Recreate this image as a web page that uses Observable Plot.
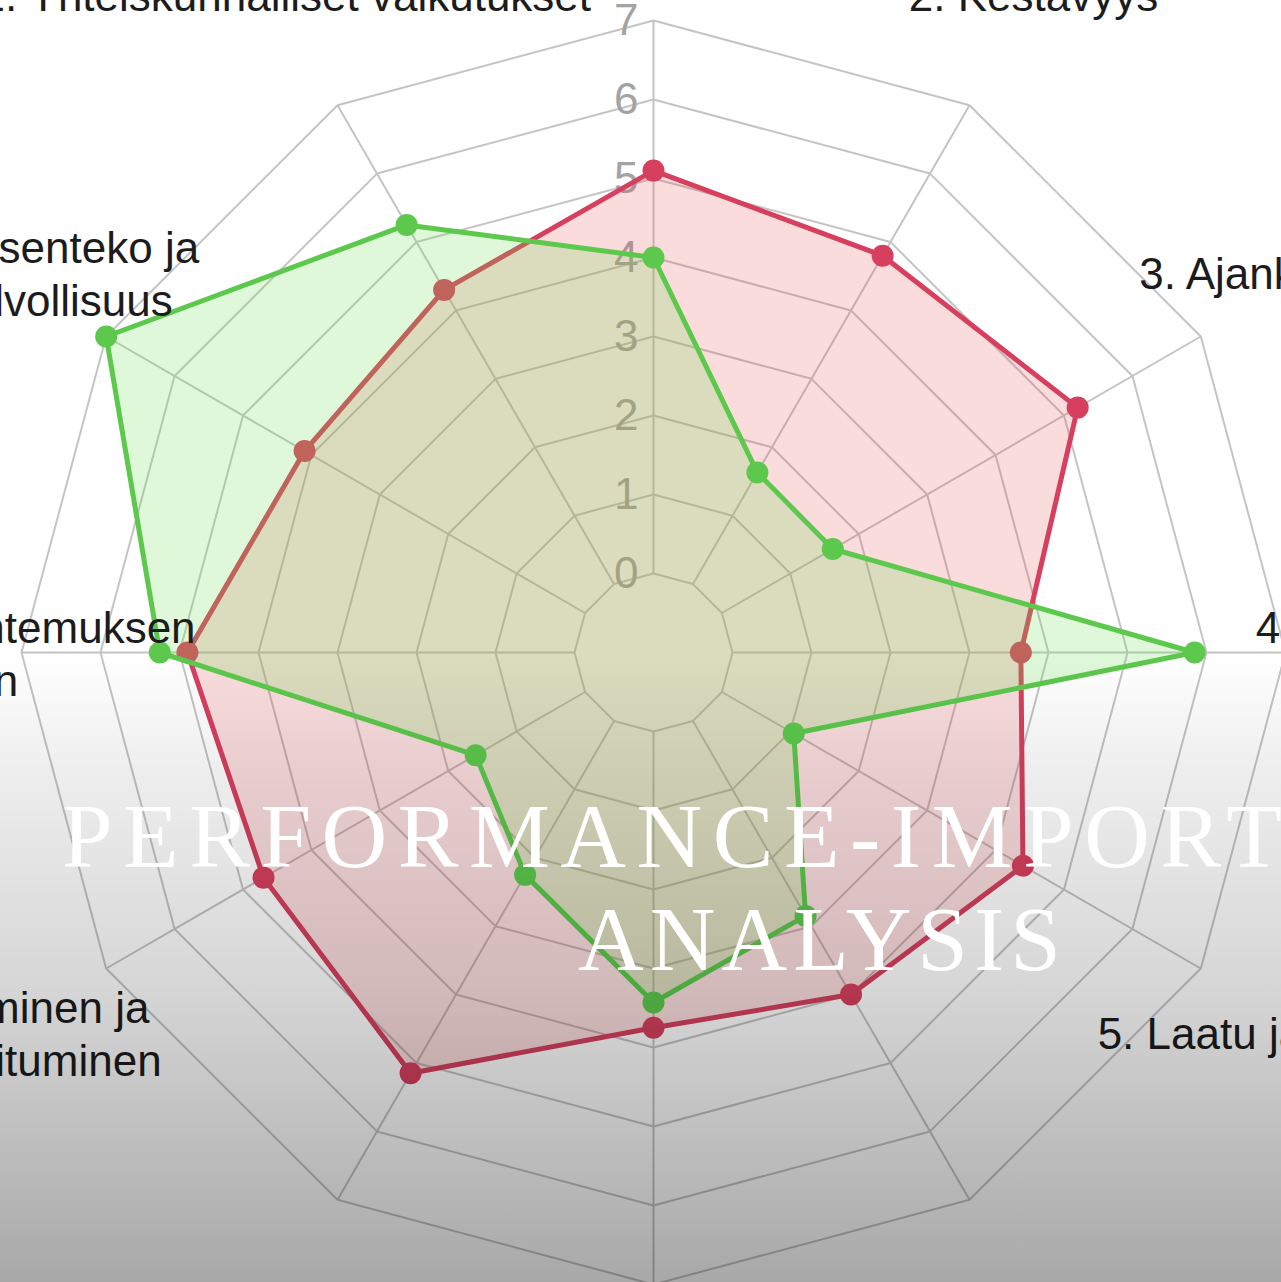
<!DOCTYPE html>
<html>
<head>
<meta charset="utf-8">
<script src="https://cdn.jsdelivr.net/npm/d3@7"></script>
<script src="https://cdn.jsdelivr.net/npm/@observablehq/plot@0.6"></script>
<style>
  body { margin: 0; background: #ffffff; }
  #wrap { position: relative; width: 1281px; height: 1282px; overflow: hidden; background: #ffffff; }
  #wrap > svg { position: absolute; left: 0; top: 0; }
  #shade { position: absolute; left: 0; top: 0; width: 1281px; height: 1282px; pointer-events: none;
    background: linear-gradient(to bottom, rgba(0,0,0,0) 0%, rgba(0,0,0,0) 51%, rgba(0,0,0,0.065) 60%, rgba(0,0,0,0.16) 77%, rgba(0,0,0,0.34) 100%); }
</style>
</head>
<body>
<div id="wrap"></div>
<script>
// ---- data ----
const categories = [
  "1. Asiakastyytyväisyys",
  "2. Kestävyys",
  "3. Ajankohtaisuus",
  "4. Kustannukset\nja tehokkuus",
  "5. Laatu ja joustavuus",
  "6. Turvallisuus",
  "7. Saavutettavuus",
  "8. Yhteistyö",
  "9. Oppiminen ja\nverkostoituminen",
  "10. Sidosryhmien tuntemuksen\nkehittäminen",
  "11. Päätöksenteko ja\nvastuuvelvollisuus",
  "12. Yhteiskunnalliset vaikutukset"
];
const importance = [5.1, 4.8, 5.2, 3.65, 4.4, 4.0, 3.75, 5.15, 4.7, 4.9, 4.1, 4.3];   // red series
const performance = [4.0, 1.63, 1.62, 5.85, 1.05, 2.85, 3.43, 2.25, 1.6, 5.25, 7.0, 5.25]; // green series
const ringValues = [0, 1, 2, 3, 4, 5, 6, 7];
const tickLabels = ["0", "1", "2", "3", "4", "5", "6", "7"];
const titleLines = ["PERFORMANCE-IMPORTANCE", "ANALYSIS"];

// ---- layout ----
const W = 1281, H = 1282, CX = 653, CY = 652, UNIT = 79;
const SCALE_MIN = -1, SCALE_MAX = 7, LABEL_V = 8.62;
const n = categories.length;
const ang = i => i * 2 * Math.PI / n;
const px = (i, v) => (v - SCALE_MIN) * Math.sin(ang(i));
const py = (i, v) => (v - SCALE_MIN) * Math.cos(ang(i));

const rings = ringValues.flatMap(v => categories.map((c, i) => ({ring: v, i, v})));
const spokes = categories.map((c, i) => ({i}));
const redPts = importance.map((v, i) => ({i, v}));
const greenPts = performance.map((v, i) => ({i, v}));
const labels = categories.map((c, i) => ({i, text: c}));

const RED = "#d6405e", GREEN = "#5cc84c";
const FONT = "Liberation Sans, Arial, Helvetica, sans-serif";

const chart = Plot.plot({
  width: W, height: H, margin: 0,
  style: {background: "transparent", overflow: "visible"},
  x: {domain: [-CX / UNIT, (W - CX) / UNIT], axis: null},
  y: {domain: [-(H - CY) / UNIT, CY / UNIT], axis: null},
  marks: [
    Plot.line(rings, {x: d => px(d.i, d.v), y: d => py(d.i, d.v), z: "ring", curve: "linear-closed",
      stroke: "#c4c4c4", strokeWidth: 2}),
    Plot.link(spokes, {x1: d => px(d.i, 0), y1: d => py(d.i, 0), x2: d => px(d.i, SCALE_MAX), y2: d => py(d.i, SCALE_MAX),
      stroke: "#c4c4c4", strokeWidth: 2}),
    Plot.text(ringValues, {x: () => 0, y: v => v - SCALE_MIN, text: (v, k) => tickLabels[k],
      textAnchor: "end", dx: -15, fontSize: 44, fill: "#a3a3a3", fontFamily: FONT}),
    // red series
    Plot.line(redPts, {x: d => px(d.i, d.v), y: d => py(d.i, d.v), curve: "linear-closed",
      stroke: "none", fill: "rgb(232,80,85)", fillOpacity: 0.2}),
    Plot.line(redPts, {x: d => px(d.i, d.v), y: d => py(d.i, d.v), curve: "linear-closed",
      stroke: RED, strokeWidth: 5}),
    Plot.dot(redPts, {x: d => px(d.i, d.v), y: d => py(d.i, d.v), r: 11, fill: RED, stroke: "none"}),
    // green series
    Plot.line(greenPts, {x: d => px(d.i, d.v), y: d => py(d.i, d.v), curve: "linear-closed",
      stroke: "none", fill: "rgb(110,225,80)", fillOpacity: 0.22}),
    Plot.line(greenPts, {x: d => px(d.i, d.v), y: d => py(d.i, d.v), curve: "linear-closed",
      stroke: GREEN, strokeWidth: 5}),
    Plot.dot(greenPts, {x: d => px(d.i, d.v), y: d => py(d.i, d.v), r: 11, fill: GREEN, stroke: "none"}),
    // category labels
    Plot.text(labels, {x: d => px(d.i, LABEL_V), y: d => py(d.i, LABEL_V), text: "text",
      textAnchor: "middle", fontSize: 44, lineHeight: 1.2, fill: "#1c1c1c", fontFamily: FONT})
  ]
});

const wrap = document.getElementById("wrap");
wrap.appendChild(chart);
const shade = document.createElement("div");
shade.id = "shade";
wrap.appendChild(shade);

// title overlay
const tsvg = d3.create("svg").attr("width", W).attr("height", H)
  .style("position", "absolute").style("left", 0).style("top", 0);
const titleSpec = [
  {x: 62, y: 867, ls: 10.5},
  {x: 578, y: 970, ls: 6}
];
titleLines.forEach((t, k) => {
  tsvg.append("text")
    .attr("x", titleSpec[k].x).attr("y", titleSpec[k].y)
    .attr("fill", "#ffffff")
    .attr("font-family", "Liberation Serif, 'DejaVu Serif', serif")
    .attr("font-size", 91)
    .attr("letter-spacing", titleSpec[k].ls)
    .text(t);
});
wrap.appendChild(tsvg.node());
</script>
</body>
</html>
